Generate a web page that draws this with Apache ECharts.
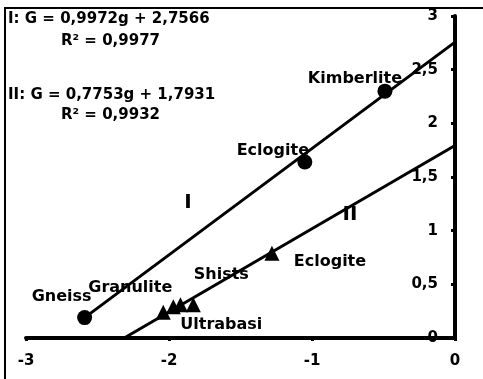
<!DOCTYPE html>
<html>
<head>
<meta charset="utf-8">
<script src="https://cdn.jsdelivr.net/npm/echarts@6/dist/echarts.min.js"></script>
<style>
html,body{margin:0;padding:0;background:#fff;}
#c{width:483px;height:379px;}
</style>
</head>
<body>
<div id="c"></div>
<script>
// ---- data ----
var circleNames = ['Gneiss', 'Eclogite', 'Kimberlite'];
var circleX = [-2.59, -1.05, -0.49];
var circleY = [0.19, 1.64, 2.30];

var triangleNames = ['Granulite', 'Ultrabasi', '', 'Shists', 'Eclogite'];
var triangleX = [-2.04, -1.97, -1.92, -1.83, -1.28];
var triangleY = [0.24, 0.29, 0.31, 0.31, 0.79];

var lineIX = [-2.59, 0];
var lineIY = [0.19, 2.7566];
var lineIIX = [-2.313, 0];
var lineIIY = [0, 1.7931];

var xTicks = [-3, -2, -1, 0];
var yTicks = [0, 0.5, 1, 1.5, 2, 2.5, 3];

var eqI = 'I: G = 0,9972g + 2,7566';
var r2I = 'R\u00B2 = 0,9977';
var eqII = 'II: G = 0,7753g + 1,7931';
var r2II = 'R\u00B2 = 0,9932';

// ---- styles (label offsets etc.) ----
var FONT = 'DejaVu Sans';
var circleOffsets = {'Gneiss': [-23, -21], 'Eclogite': [-32, -11], 'Kimberlite': [-30, -12]};
var triOffsets = {'Granulite': [-33, -24], 'Ultrabasi': [48, 18], 'Shists': [28, -30], 'Eclogite': [58, 9]};

function mkItems(xs, ys, names, offs) {
  return xs.map(function (x, i) {
    var n = names[i];
    var item = {name: n, value: [x, ys[i]]};
    if (n && offs[n]) {
      item.label = {show: true, position: 'inside', offset: offs[n], formatter: '{b}'};
    } else {
      item.label = {show: false};
    }
    return item;
  });
}
function pairs(xs, ys) { return xs.map(function (x, i) { return [x, ys[i]]; }); }

var labelStyle = {color: '#000', fontWeight: 'bold', fontSize: 16, fontFamily: FONT};

var chart = echarts.init(document.getElementById('c'), null, {renderer: 'canvas'});
chart.setOption({
  animation: false,
  backgroundColor: '#fff',
  grid: {left: 26, right: 28, top: 16, bottom: 41},
  xAxis: {
    type: 'value', min: xTicks[0], max: xTicks[xTicks.length - 1], interval: 1,
    axisLine: {onZero: true, lineStyle: {color: '#000', width: 4}},
    axisTick: {show: true, inside: false, length: 3, lineStyle: {color: '#000', width: 3}},
    axisLabel: {margin: 16, color: '#000', fontSize: 15, fontWeight: 'bold', fontFamily: FONT},
    splitLine: {show: false}
  },
  yAxis: {
    type: 'value', position: 'right', min: yTicks[0], max: yTicks[yTicks.length - 1], interval: 0.5,
    axisLine: {show: true, onZero: false, lineStyle: {color: '#000', width: 4}},
    axisTick: {show: true, inside: true, length: 4, lineStyle: {color: '#000', width: 3}},
    axisLabel: {inside: true, margin: 17, color: '#000', fontSize: 15, fontWeight: 'bold', fontFamily: FONT,
      formatter: function (v) { return String(v).replace('.', ','); }},
    splitLine: {show: false}
  },
  series: [
    {type: 'line', data: pairs(lineIX, lineIY), symbol: 'none', lineStyle: {color: '#000', width: 3}, z: 2, silent: true},
    {type: 'line', data: pairs(lineIIX, lineIIY), symbol: 'none', lineStyle: {color: '#000', width: 3}, z: 2, silent: true},
    {type: 'scatter', symbol: 'circle', symbolSize: 15, itemStyle: {color: '#000', opacity: 1},
      label: labelStyle, data: mkItems(circleX, circleY, circleNames, circleOffsets), z: 3},
    {type: 'scatter', symbol: 'triangle', symbolSize: 15, itemStyle: {color: '#000', opacity: 1},
      label: labelStyle, data: mkItems(triangleX, triangleY, triangleNames, triOffsets), z: 3}
  ],
  graphic: [
    {type: 'polyline', shape: {points: [[5, 379], [5, 8], [483, 8]]}, style: {stroke: '#000', lineWidth: 2, fill: null}, z: 10},
    {type: 'text', x: 8, y: 19, style: {text: eqI, fill: '#000', font: 'bold 15px "DejaVu Sans"', verticalAlign: 'middle'}},
    {type: 'text', x: 61, y: 41, style: {text: r2I, fill: '#000', font: 'bold 15px "DejaVu Sans"', verticalAlign: 'middle'}},
    {type: 'text', x: 8, y: 95, style: {text: eqII, fill: '#000', font: 'bold 15px "DejaVu Sans"', verticalAlign: 'middle'}},
    {type: 'text', x: 61, y: 115, style: {text: r2II, fill: '#000', font: 'bold 15px "DejaVu Sans"', verticalAlign: 'middle'}},
    {type: 'text', x: 188, y: 203, style: {text: 'I', fill: '#000', font: 'bold 20px "DejaVu Sans"', align: 'center', verticalAlign: 'middle'}},
    {type: 'text', x: 350, y: 215, style: {text: 'II', fill: '#000', font: 'bold 20px "DejaVu Sans"', align: 'center', verticalAlign: 'middle'}}
  ]
});
</script>
</body>
</html>
